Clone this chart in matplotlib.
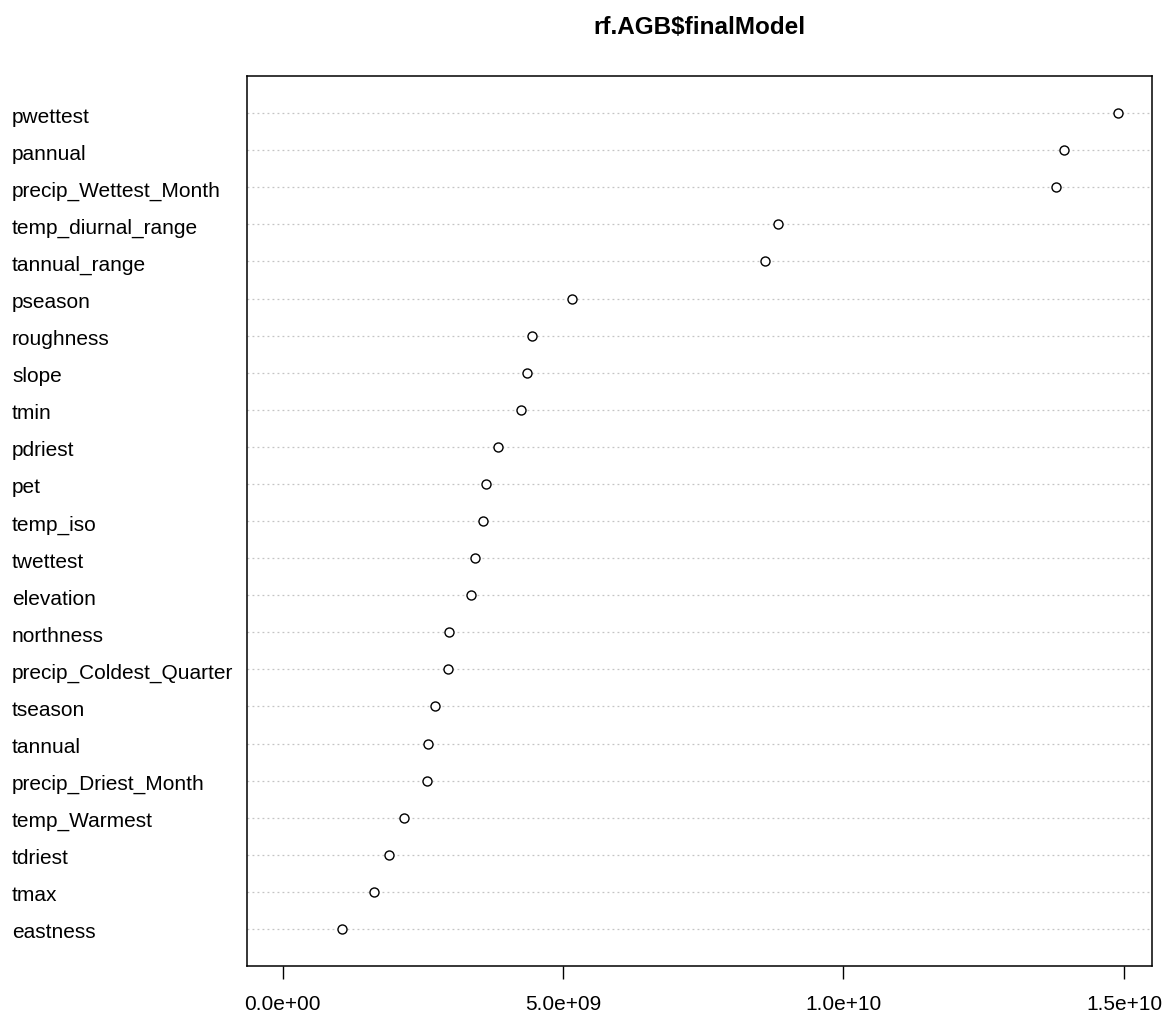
import matplotlib
matplotlib.use("Agg")
import matplotlib.pyplot as plt
import matplotlib.transforms as mtransforms

# Variable importance (rf.AGB$finalModel), top to bottom as in the plot
names = ["pwettest", "pannual", "precip_Wettest_Month", "temp_diurnal_range",
         "tannual_range", "pseason", "roughness", "slope", "tmin", "pdriest",
         "pet", "temp_iso", "twettest", "elevation", "northness",
         "precip_Coldest_Quarter", "tseason", "tannual", "precip_Driest_Month",
         "temp_Warmest", "tdriest", "tmax", "eastness"]
importance = [14.89e9, 13.94e9, 13.79e9, 8.83e9, 8.60e9, 5.16e9, 4.45e9, 4.36e9,
              4.25e9, 3.84e9, 3.63e9, 3.57e9, 3.43e9, 3.36e9, 2.97e9, 2.95e9,
              2.72e9, 2.59e9, 2.58e9, 2.17e9, 1.90e9, 1.63e9, 1.06e9]
xticks = [0, 5e9, 1e10, 1.5e10]
xtick_labels = ["0.0e+00", "5.0e+09", "1.0e+10", "1.5e+10"]

plt.rcParams["font.family"] = ["Liberation Sans", "DejaVu Sans"]

fig = plt.figure(figsize=(11.64, 10.14), dpi=100)
ax = fig.add_axes([247 / 1164, 1 - 966 / 1014, (1152 - 247) / 1164, (966 - 76) / 1014])

n = len(names)
ypos = list(range(n, 0, -1))

# dotted guide lines across the whole panel
for y in ypos:
    ax.axhline(y, color="#c4c4c4", linestyle=(0, (1.5, 2.5)), linewidth=0.9, zorder=1)

ax.plot(importance, ypos, linestyle="none", marker="o", markersize=6.5,
        markerfacecolor="white", markeredgecolor="black", markeredgewidth=1.0, zorder=3)

ax.set_xlim(-0.633e9, 15.50e9)
ax.set_ylim(0.0, n + 1)

ax.set_xticks(xticks)
ax.set_xticklabels(xtick_labels, fontsize=15)
ax.tick_params(axis="x", length=9, width=1.0, pad=12)

ax.set_yticks(ypos)
ax.set_yticklabels(names, fontsize=15, ha="left", va="center")
ax.tick_params(axis="y", length=0, pad=(247 - 12) * 0.72)
# labels sit a little below the dot rows, like R's dotchart
shift = mtransforms.ScaledTranslation(0, -4 / 100, fig.dpi_scale_trans)
for lab in ax.get_yticklabels():
    lab.set_transform(lab.get_transform() + shift)

for s in ax.spines.values():
    s.set_linewidth(1.1)

fig.text((247 + 1152) / 2 / 1164, 1 - 28 / 1014, r"rf.AGB\$finalModel",
         fontsize=17.5, fontweight="bold", ha="center", va="center")

fig.savefig("out.png", dpi=100)
